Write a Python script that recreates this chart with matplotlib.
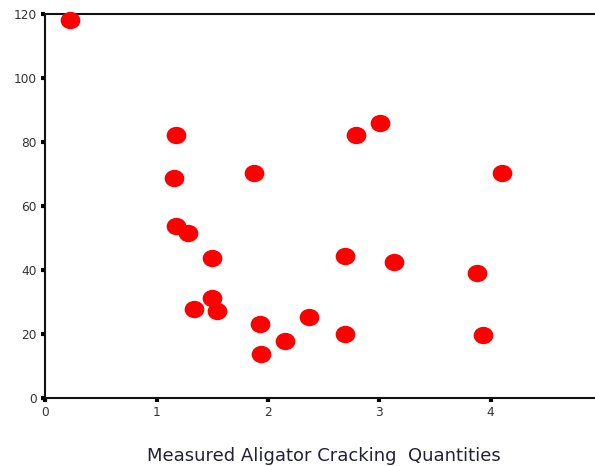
import matplotlib
matplotlib.use("Agg")
import matplotlib.pyplot as plt
from matplotlib.path import Path
import numpy as np

# Data
cracking = [0.22, 1.17, 1.16, 1.87, 1.17, 1.28, 2.79, 3.01, 1.50, 2.69, 1.50,
            1.34, 1.54, 1.93, 2.37, 2.15, 1.94, 2.69, 4.10, 3.13, 3.88, 3.93]
values = [118.1, 82.3, 68.7, 70.4, 53.8, 51.5, 82.2, 85.8, 43.7, 44.5, 31.2,
          27.8, 27.3, 23.1, 25.4, 17.9, 13.8, 19.9, 70.4, 42.4, 39.0, 19.7]
x_ticks = [0, 1, 2, 3, 4]
y_ticks = [0, 20, 40, 60, 80, 100, 120]
x_label = "Measured Aligator Cracking  Quantities"

plt.rcParams['font.family'] = ['DejaVu Sans']

fig = plt.figure(figsize=(5.95, 4.66), dpi=100)
ax = fig.add_axes([45.3 / 595, 1 - 398 / 466, (602 - 45.3) / 595, (398 - 14) / 466])

circ = Path.unit_circle()
ell = Path(circ.vertices * np.array([1.0, 0.88]), circ.codes)

ax.plot(cracking, values, linestyle='none', marker=ell, markersize=14.2,
        color='#ff0000', markeredgewidth=0, clip_on=False, zorder=3)

ax.set_xlim(0, 5)
ax.set_ylim(0, 120)
ax.set_xticks(x_ticks)
ax.set_yticks(y_ticks)
ax.set_xticklabels([str(v) for v in x_ticks])
ax.set_yticklabels([str(v) for v in y_ticks])

for side in ['top', 'bottom', 'left']:
    ax.spines[side].set_linewidth(1.5)
    ax.spines[side].set_color('#111111')
ax.spines['right'].set_visible(False)

ax.tick_params(axis='both', direction='out', length=3, width=3, color='black',
               labelsize=8.7, labelcolor='#333333', pad=3)

ax.set_xlabel(x_label, fontsize=13, color='#222233', labelpad=20)

fig.savefig("out.png", dpi=100)
